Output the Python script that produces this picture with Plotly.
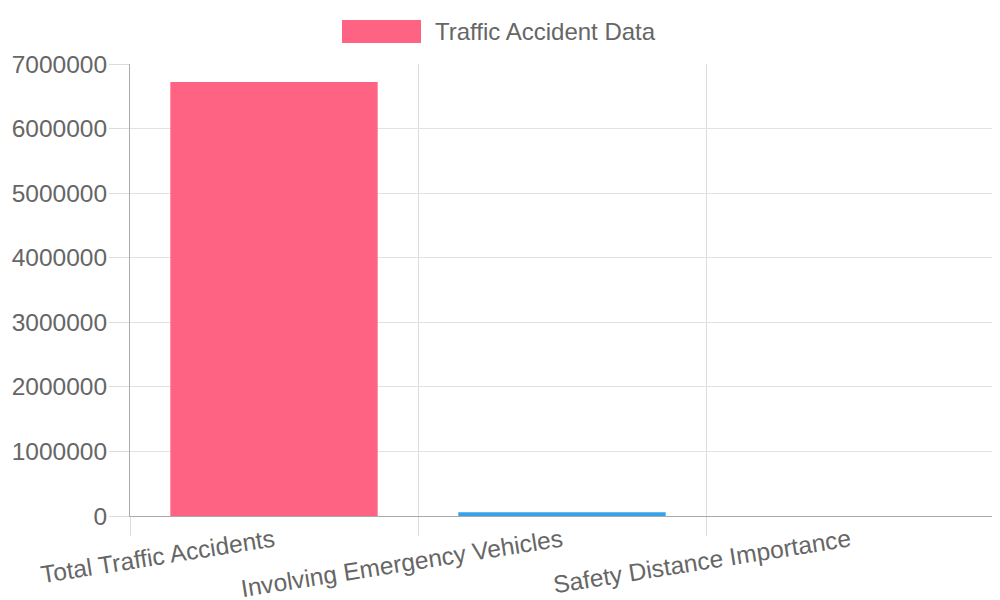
import plotly.graph_objects as go

categories = ["Total Traffic Accidents", "Involving Emergency Vehicles", "Safety Distance Importance"]
values = [6720000, 57000, 0]
colors = ["#FF6384", "#36A2EB", "#FFCE56"]
series_name = "Traffic Accident Data"
y_ticks = [0, 1000000, 2000000, 3000000, 4000000, 5000000, 6000000, 7000000]

font_family = "Liberation Sans, Arial, sans-serif"
txt = "#666666"

fig = go.Figure()
fig.add_trace(go.Bar(
    x=categories, y=values, name=series_name,
    marker=dict(color=colors, line=dict(width=0)),
    width=0.72, showlegend=False,
))

# page body has an 8px margin, so the figure is offset by 8px
fig.update_layout(
    width=992, height=592,
    margin=dict(l=122, r=6, t=56, b=84, autoexpand=False),
    paper_bgcolor="white", plot_bgcolor="white",
    font=dict(family=font_family, size=24, color=txt),
    xaxis=dict(
        type="category", range=[-0.5, 2.5], tickson="boundaries",
        showgrid=True, gridcolor="#dcdcdc", gridwidth=1,
        ticks="outside", ticklen=19, tickcolor="#dcdcdc", tickwidth=1,
        tickangle=-9, tickfont=dict(size=24.5, color=txt),
        showline=True, linecolor="#aaaaaa", linewidth=1,
        zeroline=False, automargin=False,
    ),
    yaxis=dict(
        range=[0, 7000000], tickvals=y_ticks,
        ticktext=[str(v) for v in y_ticks],
        showgrid=True, gridcolor="#e2e2e2", gridwidth=1,
        ticks="outside", ticklen=20, tickcolor="#dcdcdc", tickwidth=1,
        tickfont=dict(size=24.5, color=txt), ticklabelstandoff=-3,
        showline=True, linecolor="#aaaaaa", linewidth=1,
        zeroline=False, automargin=False,
    ),
    shapes=[dict(type="rect", xref="paper", yref="paper",
                 x0=(342 - 130) / 864, x1=(421 - 130) / 864,
                 y0=(516 - 43) / 452, y1=(516 - 20) / 452,
                 fillcolor=colors[0], line=dict(width=0))],
    annotations=[dict(text=series_name, xref="paper", yref="paper",
                      x=(433 - 130) / 864, y=(516 - 31.5) / 452,
                      xanchor="left", yanchor="middle", showarrow=False,
                      font=dict(size=24, color=txt))],
)

fig.write_html("out.html")
